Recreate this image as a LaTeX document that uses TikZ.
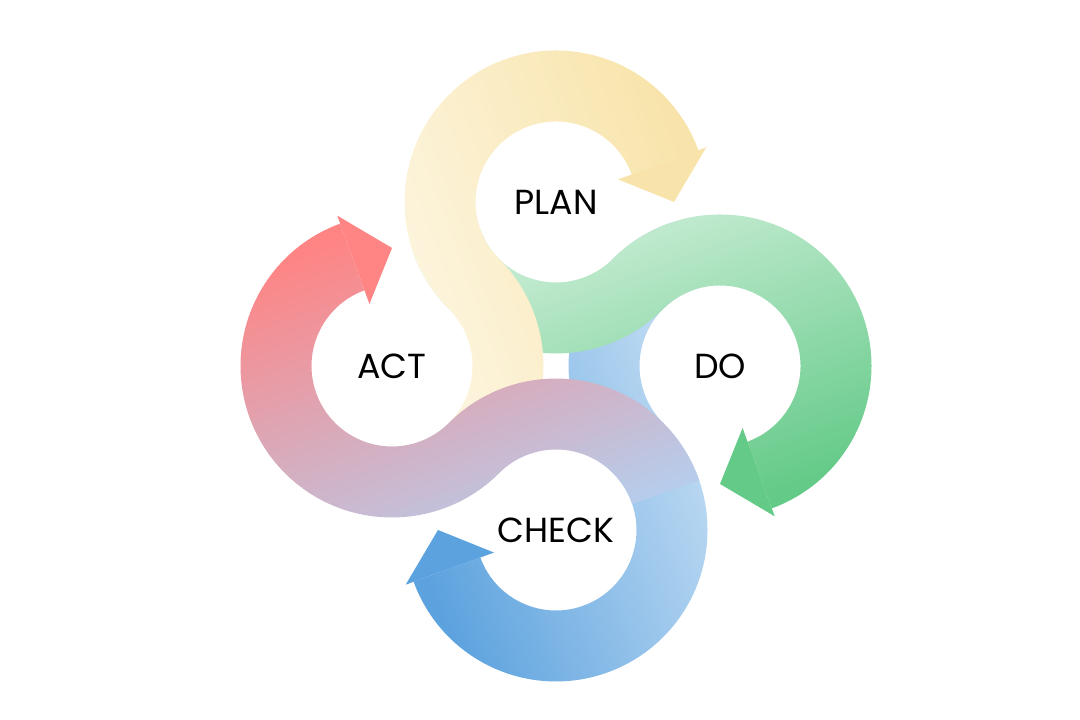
\documentclass[tikz,border=0pt]{standalone}
\usepackage{fontspec}
\setmainfont{Poppins}
\usetikzlibrary{calc}
\definecolor{planTail}{RGB}{253,247,230}
\definecolor{planTip}{RGB}{248,228,170}
\definecolor{doTail}{RGB}{210,240,220}
\definecolor{doTip}{RGB}{100,202,136}
\definecolor{checkTail}{RGB}{202,225,245}
\definecolor{checkTip}{RGB}{92,162,222}
\definecolor{actTail}{RGB}{182,205,236}
\definecolor{actTip}{RGB}{255,132,132}
\newcommand\bandin{0.805}
\newcommand\bandout{1.515}
\newcommand\cshift{1.64}
\tikzset{
  stagelabel/.style={font=\fontsize{9.9}{12}\selectfont, text=black, inner sep=0pt},
  stageband/.style 2 args={bottom color=#1, top color=#2, draw=none},
  stagehead/.style={fill=#1, draw=none}
}

\begin{document}
\begin{tikzpicture}
  \useasboundingbox (0,0) rectangle (10.8,7.2);
  \coordinate (mid) at (5.56,3.54);
  \foreach \stage/\rot in {check/-180, do/-90, plan/0, act/90}
    \coordinate (\stage-c) at ($(mid)+({\rot+90}:\cshift)$);

  % faixas em S, na ordem de sobreposicao
  \foreach \stage/\rot in {check/-180, do/-90, plan/0, act/90} {
    \path[stageband={\stage Tail}{\stage Tip}, shading angle=\rot-70]
      ($(\stage-c)+({\rot+225}:2.32)+({\rot-71}:\bandin)$)
      arc[start angle=\rot-71, end angle=\rot+45, radius=\bandin]
      arc[start angle=\rot+225, end angle=\rot+20, radius=\bandout]
      -- ($(\stage-c)+({\rot+20}:\bandin)$)
      arc[start angle=\rot+20, end angle=\rot+225, radius=\bandin]
      arc[start angle=\rot+45, end angle=\rot-71, radius=\bandout]
      -- cycle;
    \fill[stagehead=\stage Tip]
      ($(\stage-c)+({\rot+20}:1.60)$) -- ($(\stage-c)+(\rot:1.18)$)
      -- ($(\stage-c)+({\rot+20}:0.66)$) -- cycle;
  }

  \node[stagelabel] (plan) at (plan-c) {PLAN};
  \node[stagelabel] (do) at (do-c) {DO};
  \node[stagelabel] (check) at (check-c) {CHECK};
  \node[stagelabel] (act) at (act-c) {ACT};
\end{tikzpicture}
\end{document}
